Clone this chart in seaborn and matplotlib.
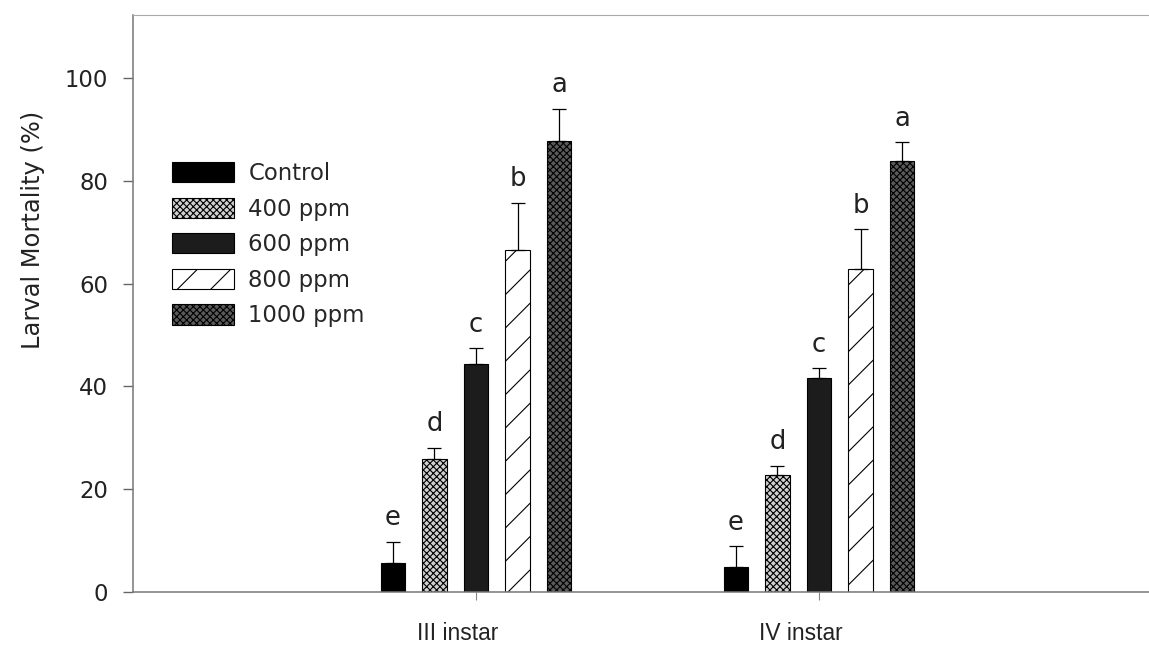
import numpy as np
import pandas as pd
import seaborn as sns
import matplotlib.pyplot as plt
from matplotlib.transforms import ScaledTranslation

instars = ['III instar', 'IV instar']
treatments = ['Control', '400 ppm', '600 ppm', '800 ppm', '1000 ppm']
mortality_III = [5.6, 25.9, 44.4, 66.5, 87.7]
mortality_IV = [4.9, 22.8, 41.6, 62.8, 83.9]
err_III = [4.1, 2.1, 3.0, 9.2, 6.3]
err_IV = [4.0, 1.7, 1.9, 7.8, 3.6]
letters = ['e', 'd', 'c', 'b', 'a']

faces = ['black', '#d0d0d0', '#1c1c1c', 'white', '#5a5a5a']
hatches = ['', 'x' * 10, '', '//', 'x' * 10]

sns.set_style('ticks')
plt.rcParams['font.family'] = ['DejaVu Sans']
plt.rcParams['hatch.linewidth'] = 0.4

df = pd.DataFrame({
    'instar': np.repeat(instars, len(treatments)),
    'treatment': treatments * 2,
    'mortality': mortality_III + mortality_IV,
})
errs = {'III instar': err_III, 'IV instar': err_IV}

fig = plt.figure(figsize=(5.745, 3.225), dpi=200)
ax = fig.add_axes([133/1149, 53/645, 1029/1149, 577/645])

sns.barplot(data=df, x='instar', y='mortality', hue='treatment',
            order=instars, hue_order=treatments, palette=faces,
            width=0.605, gap=0.4, saturation=1, edgecolor='black',
            linewidth=0.4, legend=False, ax=ax)

bar_groups = list(ax.containers)

# hatches, one-sided error bars and letters
for i, cont in enumerate(bar_groups):
    for bar in cont.patches:
        bar.set_hatch(hatches[i])
        xc = bar.get_x() + bar.get_width() / 2
        val = bar.get_height()
        e = errs[instars[int(round(xc))]][i]
        ax.errorbar(xc, val, yerr=[[0], [e]], fmt='none', ecolor='black',
                    elinewidth=0.45, capsize=2.4, capthick=0.45, zorder=3)
        ax.annotate(letters[i], (xc, val + e), xytext=(0, 6),
                    textcoords='offset points', ha='center', va='baseline',
                    fontsize=9.3, color='#222')

ax.legend(bar_groups, treatments, loc='upper left',
          bbox_to_anchor=(172/1149, 1 - 162/645), bbox_transform=fig.transFigure,
          frameon=False, fontsize=8.2, handlelength=2.7, handleheight=1.0,
          labelspacing=0.55, handletextpad=0.65, borderpad=0, borderaxespad=0)

ax.set_xlim(-1, 2)
ax.set_ylim(0, 112.3)
ax.set_yticks([0, 20, 40, 60, 80, 100])
ax.set_xlabel('')
ax.set_ylabel('Larval Mortality (%)', fontsize=8.7, color='#222')
ax.yaxis.set_label_coords(-0.086, 0.627)

ax.tick_params(axis='y', direction='out', length=3.6, width=0.5, pad=5.4,
               labelsize=8.2, color='#666', labelcolor='#222')
ax.tick_params(axis='x', direction='out', length=2.9, width=0.4, pad=8,
               labelsize=8.2, color='#888', labelcolor='#222')
for lab in ax.get_xticklabels():
    lab.set_fontfamily('Liberation Sans')
    lab.set_transform(lab.get_transform() + ScaledTranslation(-0.09, 0, fig.dpi_scale_trans))

ax.spines['right'].set_visible(False)
for s in ['left', 'bottom']:
    ax.spines[s].set_color('#777')
    ax.spines[s].set_linewidth(0.55)
ax.spines['top'].set_color('#aaa')
ax.spines['top'].set_linewidth(0.4)

fig.savefig('out.png', dpi=200)
